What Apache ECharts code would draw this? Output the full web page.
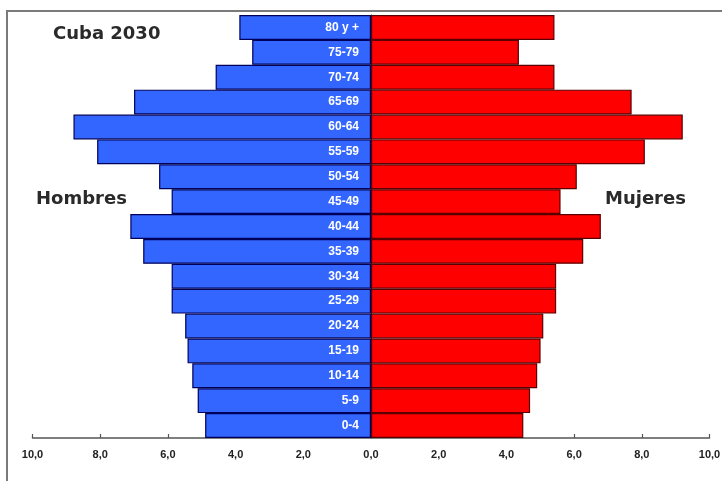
<!DOCTYPE html>
<html>
<head>
<meta charset="utf-8">
<script src="https://cdn.jsdelivr.net/npm/echarts@6/dist/echarts.min.js"></script>
<style>html,body{margin:0;padding:0;background:#fff}#c{width:722px;height:481px}</style>
</head>
<body>
<div id="c"></div>
<script>
var categories = ['0-4','5-9','10-14','15-19','20-24','25-29','30-34','35-39','40-44','45-49','50-54','55-59','60-64','65-69','70-74','75-79','80 y +'];
var hombres = [4.90, 5.12, 5.28, 5.42, 5.49, 5.89, 5.89, 6.73, 7.11, 5.89, 6.26, 8.09, 8.79, 7.00, 4.59, 3.51, 3.89];
var mujeres = [4.50, 4.70, 4.91, 5.01, 5.09, 5.47, 5.47, 6.27, 6.79, 5.60, 6.08, 8.09, 9.21, 7.70, 5.42, 4.37, 5.42];
var xTicks = [-10, -8, -6, -4, -2, 0, 2, 4, 6, 8, 10];

var chart = echarts.init(document.getElementById('c'), null, {renderer: 'canvas'});
chart.setOption({
  animation: false,
  backgroundColor: '#ffffff',
  grid: {left: 32.5, right: 12.5, top: 15, bottom: 43, containLabel: false, outerBoundsMode: 'none'},
  xAxis: {
    type: 'value', min: xTicks[0], max: xTicks[xTicks.length - 1], interval: 2,
    axisLine: {show: true, onZero: false, lineStyle: {color: '#555', width: 1.5}},
    axisTick: {show: true, inside: true, length: 4, lineStyle: {color: '#555', width: 1.2}},
    splitLine: {show: false},
    axisLabel: {
      margin: 11, color: '#222', fontFamily: 'Liberation Sans, Arial', fontWeight: 'bold', fontSize: 11,
      formatter: function (v) { return Math.abs(v).toFixed(1).replace('.', ','); }
    }
  },
  yAxis: {
    type: 'category', data: categories,
    axisLine: {show: true, onZero: true, lineStyle: {color: '#1a0010', width: 1}},
    axisTick: {show: false},
    axisLabel: {show: false}
  },
  series: [
    {
      name: 'Hombres', type: 'bar', barCategoryGap: 0, barGap: '-100%',
      data: hombres.map(function (v) { return -v; }),
      itemStyle: {color: '#3366ff', borderColor: '#00005a', borderWidth: 1.2},
      label: {
        show: true, position: 'insideRight', distance: 12, formatter: '{b}',
        color: '#ffffff', fontFamily: 'Liberation Sans, Arial', fontWeight: 'bold', fontSize: 12
      }
    },
    {
      name: 'Mujeres', type: 'bar', barCategoryGap: 0, barGap: '-100%',
      data: mujeres,
      itemStyle: {color: '#ff0000', borderColor: '#5a0000', borderWidth: 1.2}
    }
  ],
  graphic: [
    {type: 'polyline', shape: {points: [[7, 481], [7, 11], [722, 11]]}, style: {stroke: '#7a7a7a', lineWidth: 2, fill: null}, z: 100},
    {type: 'text', left: 53, top: 25, style: {text: 'Cuba 2030', font: 'bold 18px "DejaVu Sans"', fill: '#2a2a2a'}},
    {type: 'text', left: 36, top: 190, style: {text: 'Hombres', font: 'bold 18px "DejaVu Sans"', fill: '#2a2a2a'}},
    {type: 'text', left: 605, top: 190, style: {text: 'Mujeres', font: 'bold 18px "DejaVu Sans"', fill: '#2a2a2a'}}
  ]
});
</script>
</body>
</html>
